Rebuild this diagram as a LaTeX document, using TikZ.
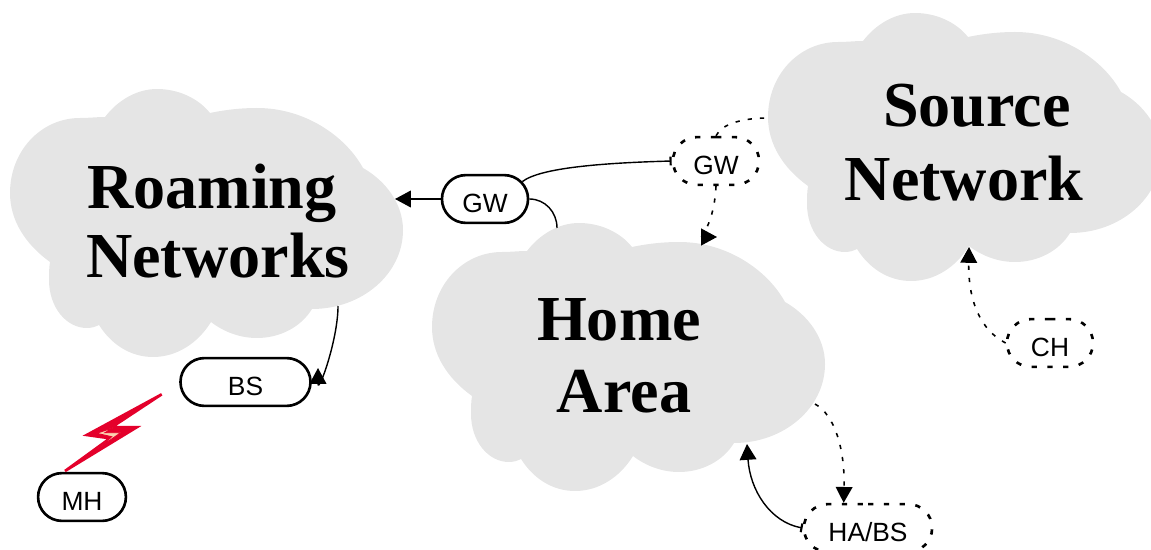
\documentclass[tikz,border=0pt]{standalone}
\usepackage{fontspec}
\setmainfont{Liberation Sans}
\newfontfamily\cloudfont{Liberation Serif}
\usepackage{xcolor}
\usepackage{tikz}
\usetikzlibrary{arrows.meta, shapes.misc}
\definecolor{cloudgray}{HTML}{E5E5E5}
\definecolor{boltred}{HTML}{E4002B}
\definecolor{boltcream}{HTML}{FBD3B0}
\tikzset{
    station/.style={rounded rectangle, draw, line width=1.5pt, minimum width=#1, inner sep=0pt, text height=21.5pt, text depth=5.7pt, font=\fontsize{15}{16}\selectfont},
    station/.default=49pt,
    ghost/.style={station=#1, dash pattern=on 3pt off 6pt},
    ghost/.default=49pt,
    title/.style={anchor=base, inner sep=0pt, font=\cloudfont\bfseries\fontsize{36.5}{38}\selectfont},
    link/.style={line width=.8pt},
    dashlink/.style={line width=.9pt, dash pattern=on 2.4pt off 4.6pt},
    tip/.style={-{Triangle[length=9pt,width=9.5pt]}},
    bartip/.style={{Bar[width=5pt,line width=1.2pt]}-},
    bartiptip/.style={{Bar[width=5pt,line width=1.2pt]}-{Triangle[length=9pt,width=9.5pt]}},
}
\newcommand{\lbl}[1]{\makebox[0pt]{#1}}
\newcommand{\cloudblob}[2]{
    \fill[cloudgray, shift={(#1,#2)}] (95,28) .. controls (108,11) and (127,0) .. (147,0)
        .. controls (168,0) and (188,9) .. (200,24)
        .. controls (214,21) and (230,19) .. (247,19)
        .. controls (296,19) and (336,48) .. (353,79)
        .. controls (376,92) and (393,115) .. (393,141)
        .. controls (393,185) and (352,220) .. (302,220)
        .. controls (291,238) and (270,249) .. (247,249)
        .. controls (230,249) and (214,243) .. (201,233)
        .. controls (188,254) and (167,268) .. (143,268)
        .. controls (120,268) and (101,255) .. (89,236)
        .. controls (85,238) and (81,239) .. (77,239)
        .. controls (56,239) and (39,218) .. (39,191)
        .. controls (39,185) and (39,179) .. (40,173)
        .. controls (15,155) and (0,131) .. (0,104)
        .. controls (0,62) and (31,29) .. (70,29)
        .. controls (79,29) and (87,28) .. (95,28) -- cycle;
}

\begin{document}
\begin{tikzpicture}[x=.02cm, y=-.02cm]
\clip (0,0) rectangle (1151,550);

\foreach \x/\y in {10/89, 432/223, 768/13}
{
    \cloudblob{\x}{\y}
};

\node[title] (roaming) at (212,209) {Roaming};
\node[title] (networks) at (218,277) {Networks};
\node[title] (home) at (619,340) {Home};
\node[title] (area) at (624,412) {Area};
\node[title] (source) at (977,127) {Source};
\node[title] (network) at (964,201) {Network};

\node[station] (gw) at (485,199) {\lbl{GW}};
\node[station=74pt] (bs) at (245.5,382) {\lbl{BS}};
\node[station=50pt] (mh) at (82,497) {\lbl{MH}};
\node[ghost] (gwhome) at (716,161) {\lbl{GW}};
\node[ghost] (ch) at (1050,343) {\lbl{CH}};
\node[ghost=73pt] (habs) at (868,528) {\lbl{HA/BS}};

\coordinate (roamingedge) at (395,199);
\coordinate (roamingfoot) at (338,306);
\coordinate (bstip) at (318,368);
\coordinate (hometop) at (557,228);
\coordinate (homeentry) at (717,237);
\coordinate (homeright) at (815,404);
\coordinate (homefoot) at (747,444);
\coordinate (sourceleft) at (768,118);
\coordinate (sourcefoot) at (969,247);

\draw[link, tip] (gw.west) -- (roamingedge);
\draw[link] (gw.east) .. controls (545,199) and (557,212) .. (hometop);
\draw[link, bartip] (gwhome.west) .. controls (600,163) and (540,168) .. (gw.25);
\draw[link, tip] (roamingfoot) .. controls (338,340) and (318,395) .. (bstip);
\draw[link, bartiptip] (habs.west) .. controls (770,522) and (750,490) .. (homefoot);

\draw[dashlink] (gwhome.north) .. controls (722,123) and (745,118) .. (sourceleft);
\draw[dashlink, tip] (gwhome.south) .. controls (714,225) and (700,237) .. (homeentry);
\draw[dashlink, tip] (homeright) .. controls (835,415) and (845,450) .. (habs.134);
\draw[dashlink, tip] (ch.west) .. controls (980,330) and (968,300) .. (sourcefoot);

\filldraw[boltred, line width=1.5pt] (161.7,394.3) -- (86.7,435) -- (110,438.3) -- (65,471) -- (136.7,427.3) -- (111.7,427.3) -- cycle;
\draw[boltred, fill=boltcream, line width=.5pt] (113.3,427.7) -- (96.7,433.3) -- (111.7,436.7) -- (98.3,448.3) -- (120.7,432.7) -- (105,432.7) -- cycle;
\end{tikzpicture}
\end{document}
